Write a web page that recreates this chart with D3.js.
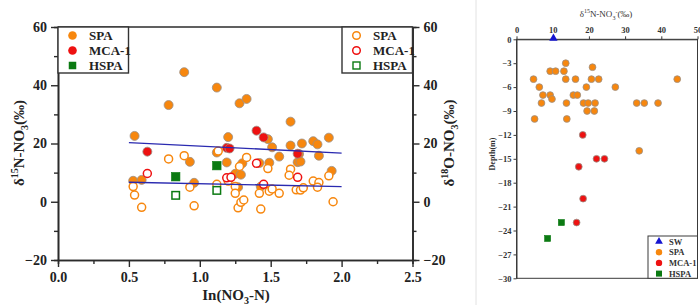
<!DOCTYPE html>
<html>
<head>
<meta charset="utf-8">
<script src="https://cdn.jsdelivr.net/npm/d3@7"></script>
<style>
  body { margin: 0; background: #fff; }
  svg { display: block; }
  .serif { font-family: "Liberation Serif", "Times New Roman", serif; }
</style>
</head>
<body>
<svg id="chart" width="700" height="305"></svg>
<script>
// ---- left panel data: ln(NO3-N) vs isotope values ----
const spa15N = [
  [0.54, 22.6], [0.78, 33.2], [0.89, 44.5], [1.12, 39.2], [1.28, 33.8], [1.33, 35.3],
  [1.20, 22.2], [1.48, 21.5], [1.51, 18.7], [1.64, 27.5], [1.64, 19.3], [1.72, 20.0],
  [1.80, 20.8], [1.83, 19.7], [1.91, 22.0], [1.56, 15.5], [1.84, 15.8], [1.70, 16.4],
  [1.69, 13.6], [1.71, 13.8], [1.49, 13.4], [1.42, 13.3], [1.12, 16.9], [0.93, 13.7],
  [1.19, 13.5], [1.30, 13.2], [1.25, 9.6], [1.29, 9.3], [0.53, 7.2], [0.59, 7.5],
  [0.96, 6.5], [1.27, 5.0], [1.43, 5.2], [1.93, 10.6]
];
const spa18O = [
  [0.53, 5.2], [0.54, 2.3], [0.59, -1.9], [0.78, 14.7], [0.89, 15.8], [0.93, 5.0],
  [0.96, -1.4], [1.13, 17.4], [1.12, 6.0], [1.20, 7.1], [1.28, 12.1], [1.33, 15.2],
  [1.25, 5.2], [1.25, 2.9], [1.27, -2.1], [1.29, -0.2], [1.31, 0.6], [1.42, 2.9],
  [1.43, -2.5], [1.48, 11.4], [1.49, 3.6], [1.51, 4.4], [1.56, 2.9], [1.64, 11.2],
  [1.63, 9.1], [1.68, 4.1], [1.71, 4.0], [1.73, 4.8], [1.80, 7.1], [1.84, 6.6],
  [1.83, 5.0], [1.91, 8.9], [1.94, 0.0]
];
const mca15N = [[0.63, 17.2], [1.19, 18.5], [1.21, 18.3], [1.40, 24.4], [1.45, 22.1], [1.69, 16.5]];
const mca18O = [[0.63, 9.7], [1.19, 8.2], [1.22, 8.4], [1.40, 13.2], [1.45, 6.0], [1.69, 8.4]];
const hspa15N = [[0.83, 8.6], [1.12, 12.4]];
const hspa18O = [[0.83, 2.2], [1.12, 3.9]];

// fitted trend lines (end points)
const trendX = [0.5, 2.0];
const trend15N = [20.3, 16.7];
const trend18O = [6.7, 5.2];

const xTicksL = [0, 0.5, 1.0, 1.5, 2.0, 2.5];
const yTicksL = [-20, 0, 20, 40, 60];
const legendNames = ['SPA', 'MCA-1', 'HSPA'];

// ---- right panel data: depth profile of δ15N ----
const sw = [[10.2, 0]];
const spaDepth = [
  [13.6, -3], [21.0, -3.5], [9.3, -4], [10.8, -4], [13.1, -4],
  [4.7, -5], [13.6, -5], [16.3, -5], [20.7, -5], [22.7, -5], [44.4, -5],
  [6.3, -6], [19.3, -6], [27.3, -6],
  [7.3, -7], [9.3, -7], [15.7, -7], [16.8, -7], [9.8, -7.5],
  [6.9, -8], [13.8, -8], [18.5, -8], [19.8, -8], [21.7, -8], [33.2, -8], [35.3, -8], [39.1, -8],
  [19.5, -9], [21.5, -9], [5.0, -10], [13.9, -10], [33.9, -14]
];
const mcaDepth = [[18.3, -12], [22.1, -15], [24.3, -15], [17.2, -16], [18.4, -20], [16.6, -23]];
const hspaDepth = [[12.4, -23], [8.6, -25]];
const xTicksR = [0, 10, 20, 30, 40, 50];
const yTicksR = [0, -3, -6, -9, -12, -15, -18, -21, -24, -27, -30];
const legendNamesR = ['SW', 'SPA', 'MCA-1', 'HSPA'];

const ORANGE = '#f7870e', RED = '#ee1111', GREEN = '#0b7a12', BLUE = '#1515d0', LINE = '#2a2ab0';
const FONT = '"Liberation Serif", "Times New Roman", serif';

const svg = d3.select('#chart');

// faint divider between the two panels
svg.append('line')
  .attr('x1', 476).attr('x2', 476).attr('y1', 0).attr('y2', 305)
  .attr('stroke', '#e2e2e2').attr('stroke-width', 1);

// ================= left panel =================
const x = d3.scaleLinear().domain([0, 2.5]).range([58, 412.5]);
const y = d3.scaleLinear().domain([-20, 60]).range([260, 27]);

const left = svg.append('g').attr('class', 'serif');

function styleAxis(g, size) {
  g.selectAll('path').attr('stroke', '#2b2b2b').attr('stroke-width', 1.6);
  g.selectAll('line').attr('stroke', '#2b2b2b').attr('stroke-width', 1.4);
  g.selectAll('text').attr('font-family', FONT).attr('font-weight', 'bold')
    .attr('font-size', size).attr('fill', '#222');
}

// minor ticks
left.append('g').attr('transform', 'translate(58,0)')
  .call(d3.axisLeft(y).tickValues(d3.range(-10, 60, 20)).tickSize(4).tickFormat(''))
  .call(g => styleAxis(g, 13));
left.append('g').attr('transform', 'translate(412.5,0)')
  .call(d3.axisRight(y).tickValues(d3.range(-10, 60, 20)).tickSize(4).tickFormat(''))
  .call(g => styleAxis(g, 13));
left.append('g').attr('transform', 'translate(0,260)')
  .call(d3.axisBottom(x).tickValues(d3.range(0.25, 2.5, 0.5)).tickSize(4).tickFormat(''))
  .call(g => styleAxis(g, 13));

left.append('g').attr('transform', 'translate(58,0)')
  .call(d3.axisLeft(y).tickValues(yTicksL).tickSize(7).tickPadding(4).tickSizeOuter(0))
  .call(g => styleAxis(g, 14));
left.append('g').attr('transform', 'translate(412.5,0)')
  .call(d3.axisRight(y).tickValues(yTicksL).tickSize(7).tickPadding(4).tickSizeOuter(0))
  .call(g => styleAxis(g, 14));
left.append('g').attr('transform', 'translate(0,260)')
  .call(d3.axisBottom(x).tickValues(xTicksL).tickFormat(d3.format('.1f')).tickSize(7).tickPadding(5).tickSizeOuter(0))
  .call(g => styleAxis(g, 14));
left.append('line')
  .attr('x1', 58).attr('x2', 412.5).attr('y1', 27).attr('y2', 27)
  .attr('stroke', '#2b2b2b').attr('stroke-width', 1.6);

// points
const R = 4.5;
function circles(g, data, sx, sy, color, filled, r) {
  g.selectAll(null).data(data).enter().append('circle')
    .attr('cx', d => sx(d[0])).attr('cy', d => sy(d[1])).attr('r', r)
    .attr('fill', filled ? color : '#fff')
    .attr('stroke', filled ? '#9b8f86' : color)
    .attr('stroke-width', filled ? 0.8 : 1.5);
}
function squares(g, data, sx, sy, color, filled, s) {
  g.selectAll(null).data(data).enter().append('rect')
    .attr('x', d => sx(d[0]) - s / 2).attr('y', d => sy(d[1]) - s / 2)
    .attr('width', s).attr('height', s)
    .attr('fill', filled ? color : '#fff')
    .attr('stroke', color).attr('stroke-width', filled ? 0.6 : 1.5);
}

const pts = left.append('g');
circles(pts, spa15N, x, y, ORANGE, true, R);
circles(pts, mca15N, x, y, RED, true, R);
squares(pts, hspa15N, x, y, GREEN, true, 8.5);
circles(pts, spa18O, x, y, ORANGE, false, R - 0.5);
circles(pts, mca18O, x, y, RED, false, R - 0.5);
squares(pts, hspa18O, x, y, GREEN, false, 7.5);

// trend lines
const trendLine = d3.line().x(d => x(d[0])).y(d => y(d[1]));
[trend15N, trend18O].forEach(t => {
  left.append('path')
    .datum(trendX.map((v, i) => [v, t[i]]))
    .attr('d', trendLine)
    .attr('fill', 'none').attr('stroke', LINE).attr('stroke-width', 1.4);
});

// legends
function legend(x0, filled) {
  const g = left.append('g');
  g.append('rect').attr('x', x0).attr('y', 27).attr('width', 70.5).attr('height', 46)
    .attr('fill', '#fff').attr('stroke', '#333').attr('stroke-width', 1.4);
  legendNames.forEach((name, i) => {
    const cy = 35.5 + i * 15;
    const cx = x0 + 14.5;
    if (i < 2) {
      g.append('circle').attr('cx', cx).attr('cy', cy).attr('r', filled ? 4.3 : 3.8)
        .attr('fill', filled ? [ORANGE, RED][i] : '#fff')
        .attr('stroke', filled ? 'none' : [ORANGE, RED][i]).attr('stroke-width', 1.5);
    } else {
      g.append('rect').attr('x', cx - 3.5).attr('y', cy - 3.5).attr('width', 7).attr('height', 7)
        .attr('fill', filled ? GREEN : '#fff').attr('stroke', GREEN).attr('stroke-width', filled ? 0.5 : 1.4);
    }
    g.append('text').attr('x', x0 + 31).attr('y', cy + 4.5)
      .attr('font-family', FONT).attr('font-weight', 'bold').attr('font-size', 13)
      .attr('fill', '#222').text(name);
  });
}
legend(58, true);
legend(342, false);

// axis titles
function isoTitle(g, mass, el) {
  const t = g.append('text').attr('font-family', FONT).attr('font-weight', 'bold')
    .attr('font-size', 15).attr('fill', '#222').attr('text-anchor', 'middle');
  t.append('tspan').text('δ');
  t.append('tspan').attr('font-size', 10).attr('dy', -6).text(mass);
  t.append('tspan').attr('dy', 6).text(el + '-NO');
  t.append('tspan').attr('font-size', 10).attr('dy', 4).text('3');
  t.append('tspan').attr('dy', -4).text('(‰)');
  return t;
}
isoTitle(left.append('g').attr('transform', 'translate(24,143) rotate(-90)'), '15', 'N');
isoTitle(left.append('g').attr('transform', 'translate(454,143) rotate(-90)'), '18', 'O');

const xt = left.append('text').attr('x', 236).attr('y', 300).attr('text-anchor', 'middle')
  .attr('font-family', FONT).attr('font-weight', 'bold').attr('font-size', 15).attr('fill', '#222');
xt.append('tspan').text('In(NO');
xt.append('tspan').attr('font-size', 10).attr('dy', 4).text('3');
xt.append('tspan').attr('dy', -4).text('-N)');

// ================= right panel =================
const xr = d3.scaleLinear().domain([0, 50]).range([516.5, 697.5]);
const yr = d3.scaleLinear().domain([0, -30]).range([39.3, 278.3]);
const right = svg.append('g');

function styleSmall(g) {
  g.selectAll('path').attr('stroke', '#3a3a3a').attr('stroke-width', 1);
  g.selectAll('line').attr('stroke', '#3a3a3a').attr('stroke-width', 1);
  g.selectAll('text').attr('font-family', FONT).attr('font-weight', 'bold')
    .attr('font-size', 8.5).attr('fill', '#333');
}
right.append('g').attr('transform', 'translate(0,39.3)')
  .call(d3.axisTop(xr).tickValues(xTicksR).tickSize(3).tickPadding(3).tickSizeOuter(0))
  .call(styleSmall);
right.append('g').attr('transform', 'translate(516.5,0)')
  .call(d3.axisLeft(yr).tickValues(yTicksR).tickFormat(d => d === 0 ? '0' : d3.format('d')(d))
    .tickSize(3).tickPadding(2).tickSizeOuter(0))
  .call(styleSmall);
right.append('rect').attr('x', 516.5).attr('y', 39.3).attr('width', 181).attr('height', 239)
  .attr('fill', 'none').attr('stroke', '#3a3a3a').attr('stroke-width', 1);

const rp = right.append('g');
circles(rp, spaDepth, xr, yr, ORANGE, true, 3.4);
circles(rp, mcaDepth, xr, yr, RED, true, 3.4);
squares(rp, hspaDepth, xr, yr, GREEN, true, 6);
const tri = d3.symbol().type(d3.symbolTriangle).size(30);
rp.selectAll(null).data(sw).enter().append('path')
  .attr('d', tri)
  .attr('transform', d => `translate(${xr(d[0])},${yr(d[1]) - 1})`)
  .attr('fill', BLUE);

// right legend
const lg = right.append('g');
lg.append('rect').attr('x', 648).attr('y', 236).attr('width', 49.5).attr('height', 42.3)
  .attr('fill', '#fff').attr('stroke', '#3a3a3a').attr('stroke-width', 1);
legendNamesR.forEach((name, i) => {
  const cy = 241.5 + i * 10.7, cx = 659;
  if (i === 0) {
    lg.append('path').attr('d', d3.symbol().type(d3.symbolTriangle).size(26))
      .attr('transform', `translate(${cx},${cy})`).attr('fill', BLUE);
  } else if (i === 3) {
    lg.append('rect').attr('x', cx - 3).attr('y', cy - 3).attr('width', 6).attr('height', 6).attr('fill', GREEN);
  } else {
    lg.append('circle').attr('cx', cx).attr('cy', cy).attr('r', 3.2).attr('fill', i === 1 ? ORANGE : RED);
  }
  lg.append('text').attr('x', 669).attr('y', cy + 3)
    .attr('font-family', FONT).attr('font-weight', 'bold').attr('font-size', 8.5)
    .attr('fill', '#333').text(name);
});

// right titles
const rt = right.append('text').attr('x', 606).attr('y', 17).attr('text-anchor', 'middle')
  .attr('font-family', FONT).attr('font-size', 9).attr('fill', '#333');
rt.append('tspan').text('δ');
rt.append('tspan').attr('font-size', 6).attr('dy', -4).text('15');
rt.append('tspan').attr('dy', 4).text('N-NO');
rt.append('tspan').attr('font-size', 6).attr('dy', 2.5).text('3');
rt.append('tspan').attr('font-size', 6).attr('dy', -6).text('-');
rt.append('tspan').attr('dy', 3.5).text('(‰)');

right.append('text').attr('transform', 'translate(495,154) rotate(-90)')
  .attr('text-anchor', 'middle').attr('font-family', FONT).attr('font-weight', 'bold')
  .attr('font-size', 8).attr('fill', '#333').text('Depth(m)');
</script>
</body>
</html>
